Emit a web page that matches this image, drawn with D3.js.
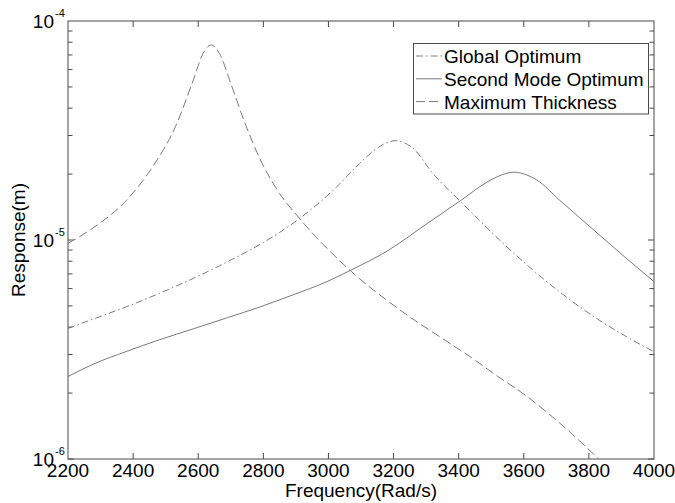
<!DOCTYPE html>
<html>
<head>
<meta charset="utf-8">
<script src="https://cdn.jsdelivr.net/npm/d3@7"></script>
<style>
  body { margin: 0; background: #fff; }
  text { font-family: "Liberation Sans", Arial, sans-serif; fill: #000; }
</style>
</head>
<body>
<div id="chart"></div>
<script>
// values
const globalFreq = [2200, 2280, 2380, 2480, 2585, 2690, 2800, 2850, 2910, 3015, 3095, 3150, 3205, 3260, 3320, 3405, 3460, 3505, 3610, 3710, 3815, 3915, 4000];
const globalResp = [3.95e-6, 4.37e-6, 4.96e-6, 5.7e-6, 6.68e-6, 7.96e-6, 9.74e-6, 1.083e-5, 1.25e-5, 1.69e-5, 2.23e-5, 2.63e-5, 2.84e-5, 2.62e-5, 2.02e-5, 1.5e-5, 1.245e-5, 1.07e-5, 7.69e-6, 5.8e-6, 4.47e-6, 3.62e-6, 3.09e-6];

const secondFreq = [2200, 2280, 2380, 2480, 2585, 2690, 2790, 2890, 2995, 3070, 3180, 3300, 3405, 3485, 3520, 3570, 3610, 3640, 3710, 3815, 3915, 4000];
const secondResp = [2.38e-6, 2.72e-6, 3.1e-6, 3.5e-6, 3.93e-6, 4.42e-6, 4.95e-6, 5.61e-6, 6.45e-6, 7.3e-6, 8.9e-6, 1.18e-5, 1.51e-5, 1.83e-5, 1.95e-5, 2.04e-5, 1.98e-5, 1.88e-5, 1.52e-5, 1.11e-5, 8.25e-6, 6.45e-6];

const thickFreq = [2200, 2275, 2380, 2460, 2530, 2585, 2615, 2640, 2665, 2700, 2740, 2790, 2850, 2910, 3065, 3220, 3360, 3440, 3505, 3610, 3710, 3790, 3830, 3870];
const thickResp = [9.66e-6, 1.13e-5, 1.52e-5, 2.16e-5, 3.29e-5, 5.38e-5, 7.12e-5, 7.77e-5, 7.12e-5, 5.19e-5, 3.53e-5, 2.34e-5, 1.63e-5, 1.26e-5, 7.3e-6, 4.79e-6, 3.47e-6, 2.9e-6, 2.47e-6, 1.93e-6, 1.46e-6, 1.14e-6, 1.0e-6, 8.8e-7];

const seriesNames = ["Global Optimum", "Second Mode Optimum", "Maximum Thickness"];
const xTicks = [2200, 2400, 2600, 2800, 3000, 3200, 3400, 3600, 3800, 4000];
const yDecades = [-6, -5, -4];

const W = 675, H = 503;
const m = { left: 68, right: 21, top: 21, bottom: 44 };
const fs = "19px";

const svg = d3.select("#chart").append("svg")
  .attr("width", W)
  .attr("height", H);

const x = d3.scaleLinear().domain([2200, 4000]).range([m.left, W - m.right]);
const y = d3.scaleLog().domain([1e-6, 1e-4]).range([H - m.bottom, m.top]);

const axisColor = "#4a4a4a";

svg.append("defs").append("clipPath").attr("id", "plotclip")
  .append("rect")
  .attr("x", m.left).attr("y", m.top)
  .attr("width", x.range()[1] - m.left)
  .attr("height", y.range()[0] - m.top);

// box
svg.append("rect")
  .attr("x", m.left).attr("y", m.top)
  .attr("width", x.range()[1] - m.left)
  .attr("height", y.range()[0] - m.top)
  .attr("fill", "none")
  .attr("stroke", axisColor)
  .attr("stroke-width", 1);

// x ticks (inward, bottom and top)
const x0 = y.range()[0], xTop = m.top;
xTicks.slice(1, -1).forEach(t => {
  svg.append("line").attr("x1", x(t)).attr("x2", x(t)).attr("y1", x0).attr("y2", x0 - 6)
    .attr("stroke", axisColor);
  svg.append("line").attr("x1", x(t)).attr("x2", x(t)).attr("y1", xTop).attr("y2", xTop + 6)
    .attr("stroke", axisColor);
});
svg.selectAll(".xlab")
  .data(xTicks)
  .enter().append("text")
  .attr("x", d => x(d))
  .attr("y", x0 + 18)
  .attr("text-anchor", "middle")
  .style("font-size", fs)
  .text(d => d);

// y ticks (log, minor 2..9)
const xl = m.left, xr = x.range()[1];
const yTickVals = [];
yDecades.slice(0, -1).forEach(p => {
  for (let k = 1; k <= 9; k++) yTickVals.push({ v: k * Math.pow(10, p), major: k === 1 });
});
yTickVals.forEach(t => {
  const len = t.major ? 6 : 4.5;
  svg.append("line").attr("x1", xl).attr("x2", xl + len).attr("y1", y(t.v)).attr("y2", y(t.v))
    .attr("stroke", axisColor);
  svg.append("line").attr("x1", xr).attr("x2", xr - len).attr("y1", y(t.v)).attr("y2", y(t.v))
    .attr("stroke", axisColor);
});
yDecades.forEach(p => {
  const yy = y(Math.pow(10, p));
  svg.append("text")
    .attr("x", 54).attr("y", yy + 7)
    .attr("text-anchor", "end")
    .style("font-size", fs)
    .text("10");
  svg.append("text")
    .attr("x", 55).attr("y", yy - 4)
    .style("font-size", "11px")
    .text(p);
});

// axis titles
svg.append("text")
  .attr("x", (m.left + xr) / 2)
  .attr("y", 497)
  .attr("text-anchor", "middle")
  .style("font-size", fs)
  .text("Frequency(Rad/s)");

svg.append("text")
  .attr("transform", `translate(25,${y(1e-5)}) rotate(-90)`)
  .attr("text-anchor", "middle")
  .style("font-size", fs)
  .text("Response(m)");

// curves
const lineColor = "#7a7a7a";
const styles = ["7,3,1.5,3", null, "9,4"];
const series = [
  globalFreq.map((f, i) => [f, globalResp[i]]),
  secondFreq.map((f, i) => [f, secondResp[i]]),
  thickFreq.map((f, i) => [f, thickResp[i]])
];

const line = d3.line()
  .x(d => x(d[0]))
  .y(d => y(d[1]))
  .curve(d3.curveMonotoneX);

const plot = svg.append("g").attr("clip-path", "url(#plotclip)");
series.forEach((s, i) => {
  plot.append("path")
    .datum(s)
    .attr("d", line)
    .attr("fill", "none")
    .attr("stroke", lineColor)
    .attr("stroke-width", 1)
    .attr("stroke-dasharray", styles[i]);
});

// legend
const lg = svg.append("g");
lg.append("rect")
  .attr("x", 413.5).attr("y", 43.5)
  .attr("width", 235).attr("height", 70.5)
  .attr("fill", "#fff")
  .attr("stroke", axisColor);
seriesNames.forEach((name, i) => {
  const cy = 56 + i * 22.8;
  lg.append("line")
    .attr("x1", 416).attr("x2", 442)
    .attr("y1", cy).attr("y2", cy)
    .attr("stroke", lineColor)
    .attr("stroke-dasharray", styles[i]);
  lg.append("text")
    .attr("x", 444).attr("y", cy + 7)
    .style("font-size", fs)
    .text(name);
});
</script>
</body>
</html>
